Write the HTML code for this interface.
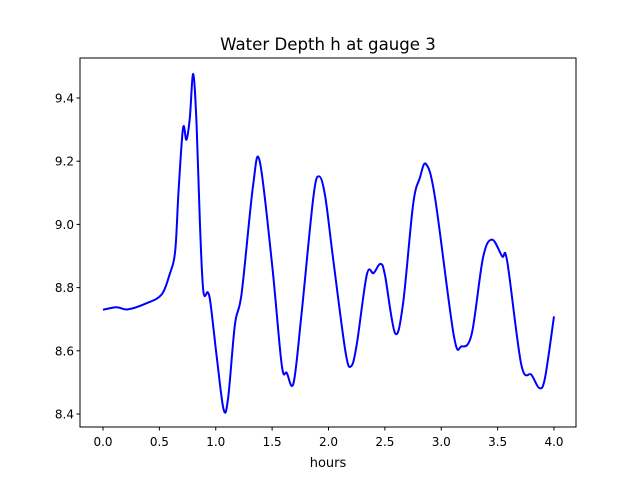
<!DOCTYPE html>
<html><head><meta charset="utf-8"><style>
body{margin:0;background:#fff}
svg text{font-family:"DejaVu Sans","Liberation Sans",sans-serif;fill:#000}
</style></head><body>
<svg id="chart" width="640" height="480">
<rect width="640" height="480" fill="#fff"/>
<text x="328" y="50" font-size="16.6" text-anchor="middle">Water Depth h at gauge 3</text>
<g id="ticks"></g>
<path id="line" fill="none" stroke="#0000ff" stroke-width="2" stroke-linejoin="round"/>
<rect x="80" y="58" width="496" height="369" fill="none" stroke="#000" stroke-width="1"/>
<text x="328" y="467" font-size="13" text-anchor="middle">hours</text>
</svg>
<script>
const hours=[0,0.12,0.22,0.39,0.52,0.59,0.64,0.67,0.71,0.74,0.77,0.80,0.83,0.86,0.89,0.93,0.955,1.01,1.07,1.11,1.17,1.23,1.33,1.39,1.50,1.585,1.63,1.69,1.76,1.865,1.915,1.97,2.04,2.15,2.20,2.25,2.34,2.40,2.46,2.50,2.59,2.66,2.75,2.81,2.865,2.945,3.11,3.18,3.27,3.37,3.45,3.54,3.585,3.71,3.80,3.87,3.92,4.0];
const depth=[8.73,8.738,8.731,8.751,8.778,8.841,8.915,9.105,9.305,9.268,9.337,9.476,9.316,8.999,8.788,8.785,8.746,8.577,8.414,8.451,8.683,8.783,9.12,9.2,8.872,8.556,8.53,8.498,8.714,9.084,9.152,9.09,8.894,8.598,8.551,8.619,8.841,8.846,8.875,8.841,8.656,8.746,9.062,9.147,9.191,9.084,8.651,8.614,8.653,8.894,8.952,8.899,8.883,8.556,8.524,8.482,8.514,8.709];
const xTicks=[0,0.5,1,1.5,2,2.5,3,3.5,4];
const yTicks=[8.4,8.6,8.8,9.0,9.2,9.4];
const X=v=>103+v*112.75, Y=v=>414-(v-8.4)*316;
const NS="http://www.w3.org/2000/svg";
const g=document.getElementById('ticks');
function el(t,a){const e=document.createElementNS(NS,t);for(const k in a)e.setAttribute(k,a[k]);g.appendChild(e);return e;}
xTicks.forEach(v=>{
 const l=el('line',{x1:X(v),x2:X(v),y1:427,y2:430.5,stroke:'#000'});
 
 
 const t=el('text',{x:X(v),y:446,'font-size':12,'text-anchor':'middle'});t.textContent=v.toFixed(1);
 
 
});
yTicks.forEach(v=>{
 const l=el('line',{x1:76.5,x2:80,y1:Y(v),y2:Y(v),stroke:'#000'});
 
 
 const t=el('text',{x:74,y:Y(v)+4.5,'font-size':12,'text-anchor':'end'});t.textContent=v.toFixed(1);
 
 
});
const P=hours.map((h,i)=>[X(h),Y(depth[i])]);
let d='M'+P[0][0]+','+P[0][1];
for(let i=0;i<P.length-1;i++){
 const p0=P[Math.max(0,i-1)],p1=P[i],p2=P[i+1],p3=P[Math.min(P.length-1,i+2)];
 const c1=[p1[0]+(p2[0]-p0[0])/6,p1[1]+(p2[1]-p0[1])/6];
 const c2=[p2[0]-(p3[0]-p1[0])/6,p2[1]-(p3[1]-p1[1])/6];
 d+=`C${c1[0]},${c1[1]} ${c2[0]},${c2[1]} ${p2[0]},${p2[1]}`;
}
document.getElementById('line').setAttribute('d',d);
</script>
</body></html>
